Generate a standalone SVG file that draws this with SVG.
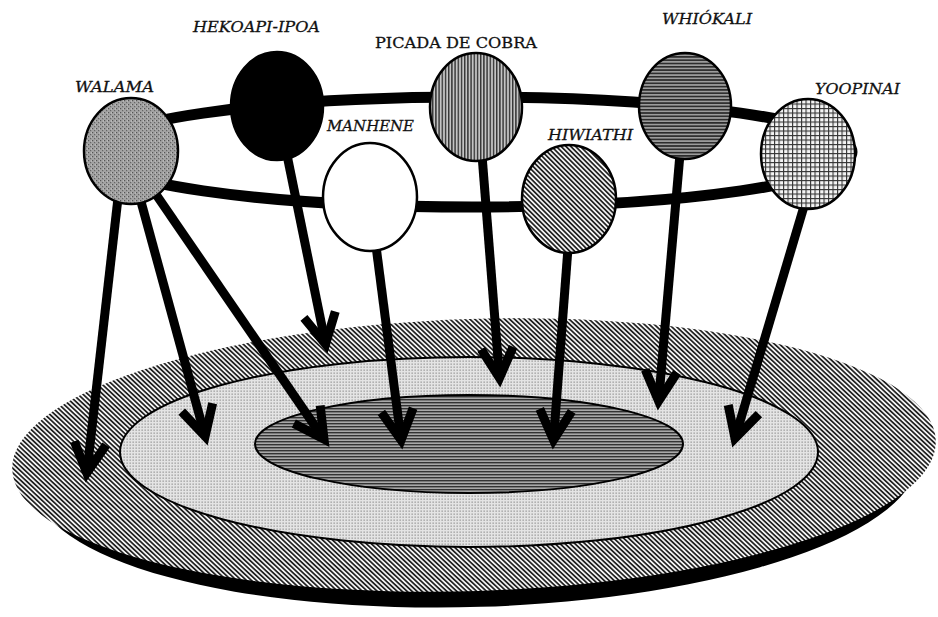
<svg xmlns="http://www.w3.org/2000/svg" width="938" height="617" viewBox="0 0 938 617">
<style>
.lbl{font-family:"DejaVu Serif","Liberation Serif",serif;font-size:15px;fill:#111;stroke:#111;stroke-width:0.3;}
.it{font-style:italic;}
.node{stroke:#000;stroke-width:2.5;}
.arr{stroke:#000;stroke-width:9;fill:none;marker-end:url(#ah);}
</style>
<defs>
<marker id="ah" markerUnits="userSpaceOnUse" viewBox="-40 -25 56 50" markerWidth="56" markerHeight="50" refX="0" refY="0" orient="auto">
<path d="M-30,-16 L0,0 L-30,16" fill="none" stroke="#000" stroke-width="9" stroke-linejoin="miter" stroke-miterlimit="6"/>
</marker>
<pattern id="pDiag" patternUnits="userSpaceOnUse" width="3.4" height="3.4" patternTransform="rotate(-45)">
<rect width="3.4" height="3.4" fill="#f2f2f2"/><rect x="0" y="0" width="1.7" height="3.4" fill="#222"/>
</pattern>
<pattern id="pDots" patternUnits="userSpaceOnUse" width="3" height="3">
<rect width="3" height="3" fill="#e4e4e4"/><rect x="0.5" y="0.5" width="1.3" height="1.3" fill="#959595"/>
</pattern>
<pattern id="pHorDark" patternUnits="userSpaceOnUse" width="3" height="3">
<rect width="3" height="3" fill="#a8a8a8"/><rect x="0" y="0" width="3" height="1.4" fill="#333"/>
</pattern>
<pattern id="pStipple" patternUnits="userSpaceOnUse" width="4" height="4">
<rect width="4" height="4" fill="#a3a3a3"/><rect x="0" y="0" width="1.2" height="1.2" fill="#555"/><rect x="2" y="2" width="1.2" height="1.2" fill="#666"/><rect x="3" y="0.5" width="1" height="1" fill="#ccc"/>
</pattern>
<pattern id="pVert" patternUnits="userSpaceOnUse" width="3.2" height="3.2">
<rect width="3.2" height="3.2" fill="#c4c4c4"/><rect x="0" y="0" width="1.4" height="3.2" fill="#333"/>
</pattern>
<pattern id="pHor" patternUnits="userSpaceOnUse" width="3.3" height="3.3">
<rect width="3.3" height="3.3" fill="#9c9c9c"/><rect x="0" y="0" width="3.3" height="1.6" fill="#2a2a2a"/>
</pattern>
<pattern id="pGrid" patternUnits="userSpaceOnUse" width="4.5" height="4.5">
<rect width="4.5" height="4.5" fill="#f4f4f4"/><rect x="0" y="0" width="1.1" height="4.5" fill="#333"/><rect x="0" y="0" width="4.5" height="1.1" fill="#333"/>
</pattern>
</defs>

<g id="base">
<g transform="rotate(-1.8 474 455)">
<ellipse cx="476" cy="471" rx="442" ry="136" fill="#000"/>
<ellipse cx="474" cy="455" rx="462" ry="136" fill="url(#pDiag)"/>
</g>
<ellipse cx="469" cy="452" rx="349" ry="95" fill="url(#pDots)" stroke="#000" stroke-width="2"/>
<ellipse cx="469" cy="444" rx="214" ry="49" fill="url(#pHorDark)" stroke="#000" stroke-width="2"/>
</g>

<g id="ring">
<ellipse cx="472" cy="152" rx="380" ry="55" fill="none" stroke="#000" stroke-width="11"/>
</g>

<g id="connectors">
<line class="arr" x1="118" y1="198" x2="86.8" y2="473"/>
<line class="arr" x1="140" y1="198" x2="205.1" y2="436.3"/>
<line class="arr" x1="155" y1="193" x2="324" y2="439.2"/>
<line class="arr" x1="287" y1="155" x2="325.6" y2="344.1"/>
<line class="arr" x1="376" y1="246" x2="401.1" y2="440"/>
<line class="arr" x1="482" y1="155" x2="499.5" y2="378"/>
<line class="arr" x1="568" y1="248" x2="553.5" y2="440"/>
<line class="arr" x1="680" y1="154" x2="658.6" y2="401"/>
<line class="arr" x1="805" y1="203" x2="735" y2="438.3"/>
</g>

<g id="walama">
<ellipse class="node" cx="131" cy="151" rx="47" ry="53" fill="url(#pStipple)"/>
<text class="lbl it" x="75" y="92" textLength="79" lengthAdjust="spacingAndGlyphs">WALAMA</text>
</g>
<g id="hekoapi-ipoa">
<ellipse class="node" cx="277" cy="106" rx="46" ry="54" fill="#000"/>
<text class="lbl it" x="193" y="32" textLength="127" lengthAdjust="spacingAndGlyphs">HEKOAPI-IPOA</text>
</g>
<g id="manhene">
<ellipse class="node" cx="370" cy="197" rx="47" ry="54" fill="#fff"/>
<text class="lbl it" x="327" y="131" textLength="87" lengthAdjust="spacingAndGlyphs">MANHENE</text>
</g>
<g id="picada-de-cobra">
<ellipse class="node" cx="476" cy="107" rx="46" ry="54" fill="url(#pVert)"/>
<text class="lbl" x="375" y="48" textLength="162" lengthAdjust="spacingAndGlyphs">PICADA DE COBRA</text>
</g>
<g id="hiwiathi">
<ellipse class="node" cx="569" cy="199" rx="47" ry="54" fill="url(#pDiag)"/>
<text class="lbl it" x="548" y="140" textLength="85" lengthAdjust="spacingAndGlyphs">HIWIATHI</text>
</g>
<g id="whiokali">
<ellipse class="node" cx="685" cy="106" rx="46" ry="53" fill="url(#pHor)"/>
<text class="lbl it" x="662" y="24" textLength="90" lengthAdjust="spacingAndGlyphs">WHIÓKALI</text>
</g>
<g id="yoopinai">
<ellipse class="node" cx="808" cy="154" rx="47" ry="55" fill="url(#pGrid)"/>
<text class="lbl it" x="815" y="94" textLength="85" lengthAdjust="spacingAndGlyphs">YOOPINAI</text>
</g>
</svg>
